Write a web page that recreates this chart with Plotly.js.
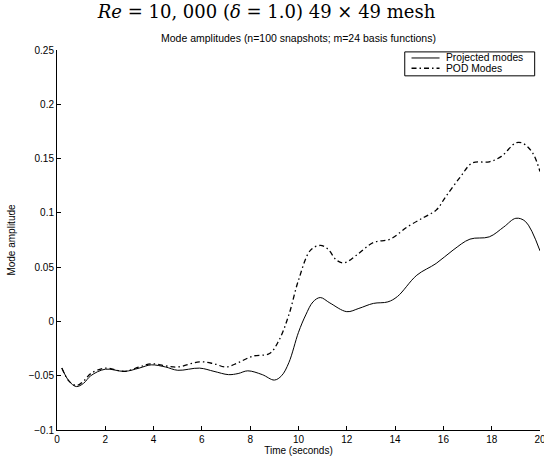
<!DOCTYPE html>
<html>
<head>
<meta charset="utf-8">
<script src="https://cdn.plot.ly/plotly-3.0.1.min.js"></script>
<style>html,body{margin:0;padding:0;background:#fff;}#chart{width:544px;height:465px;}</style>
</head>
<body>
<div id="chart"></div>
<script>
// Projected modes (solid)
const projT = [0.2, 0.5, 0.8, 1.1, 1.4, 2.0, 2.8, 3.4, 3.9, 4.5, 5.0, 5.9, 6.5, 7.1, 7.5, 7.9, 8.5, 9.0, 9.3, 9.6, 10.0, 10.3, 10.6, 10.9, 11.3, 12.0, 12.5, 13.1, 13.7, 14.1, 14.9, 15.7, 16.4, 17.1, 17.9, 18.5, 19.0, 19.4, 20.0];
const projV = [-0.043, -0.055, -0.060, -0.057, -0.050, -0.044, -0.046, -0.043, -0.040, -0.042, -0.045, -0.043, -0.046, -0.049, -0.048, -0.0455, -0.049, -0.054, -0.050, -0.038, -0.010, 0.006, 0.018, 0.022, 0.017, 0.009, 0.012, 0.0166, 0.018, 0.023, 0.0426, 0.0534, 0.0657, 0.0758, 0.0779, 0.087, 0.095, 0.092, 0.065];
// POD modes (dash-dot)
const podT = [0.2, 0.5, 0.8, 1.1, 1.4, 2.0, 2.8, 3.4, 3.9, 4.5, 5.0, 5.9, 6.5, 7.0, 7.5, 8.1, 8.8, 9.2, 9.6, 10.0, 10.5, 10.9, 11.2, 11.6, 11.9, 12.4, 13.1, 13.8, 14.5, 15.2, 15.7, 16.1, 16.7, 17.2, 17.9, 18.4, 19.0, 19.3, 19.7, 20.0];
const podV = [-0.043, -0.055, -0.059, -0.055, -0.048, -0.043, -0.046, -0.042, -0.039, -0.041, -0.042, -0.0372, -0.039, -0.042, -0.038, -0.032, -0.0295, -0.017, 0.006, 0.038, 0.0657, 0.070, 0.067, 0.056, 0.054, 0.061, 0.0727, 0.0758, 0.087, 0.096, 0.1025, 0.115, 0.133, 0.146, 0.147, 0.152, 0.1645, 0.164, 0.155, 0.138];

const xTicks = [0, 2, 4, 6, 8, 10, 12, 14, 16, 18, 20];
const yTicks = [-0.1, -0.05, 0, 0.05, 0.1, 0.15, 0.2, 0.25];
const yTickText = ['\u22120.1', '\u22120.05', '0', '0.05', '0.1', '0.15', '0.2', '0.25'];
const seriesNames = ['Projected modes', 'POD Modes'];

const sans = 'Liberation Sans, Arial, sans-serif';
const traces = [
  {x: projT, y: projV, type: 'scatter', mode: 'lines', name: seriesNames[0],
   line: {color: '#000', width: 1, shape: 'spline', smoothing: 1}},
  {x: podT, y: podV, type: 'scatter', mode: 'lines', name: seriesNames[1],
   line: {color: '#000', width: 1.3, shape: 'spline', smoothing: 1, dash: '5px,3px,1.5px,3px'}}
];

// manual legend geometry (paper coords)
const lx0 = 0.72, lx1 = 0.989, ly0 = 0.932, ly1 = 0.995;
const layout = {
  width: 544, height: 465,
  margin: {l: 56.6, r: 4, t: 50, b: 35},
  paper_bgcolor: '#fff', plot_bgcolor: '#fff',
  showlegend: false,
  font: {family: sans, size: 10, color: '#000'},
  title: {text: '<i>Re</i> = 10, 000 (<i>δ</i> = 1.0) 49 × 49 mesh', xref: 'container', x: 0.49, xanchor: 'center',
          yref: 'container', y: 0.974, yanchor: 'middle',
          font: {family: 'DejaVu Serif, serif', size: 18, color: '#000'}},
  xaxis: {range: [0, 20], tickvals: xTicks, ticktext: xTicks.map(String), ticks: 'inside', ticklen: 4,
          tickcolor: '#000', showline: true, linecolor: '#000', linewidth: 1, mirror: false,
          showgrid: false, zeroline: false, tickfont: {size: 10, family: sans}, ticklabeloverflow: 'allow',
          title: {text: 'Time (seconds)', font: {size: 10, family: sans}, standoff: 2}},
  yaxis: {range: [-0.1, 0.25], tickvals: yTicks, ticktext: yTickText, ticks: 'inside', ticklen: 4,
          tickcolor: '#000', showline: true, linecolor: '#000', linewidth: 1, mirror: false,
          showgrid: false, zeroline: false, tickfont: {size: 10, family: sans}, ticklabeloverflow: 'allow',
          title: {text: 'Mode amplitude', font: {size: 10, family: sans}, standoff: 11}},
  shapes: [
    {type: 'rect', xref: 'paper', yref: 'paper', x0: lx0, x1: lx1, y0: ly0, y1: ly1,
     line: {color: '#000', width: 1}, fillcolor: '#fff', layer: 'above'},
    {type: 'line', xref: 'paper', yref: 'paper', x0: lx0 + 0.014, x1: lx0 + 0.072, y0: 0.979, y1: 0.979,
     line: {color: '#000', width: 1}},
    {type: 'line', xref: 'paper', yref: 'paper', x0: lx0 + 0.014, x1: lx0 + 0.072, y0: 0.952, y1: 0.952,
     line: {color: '#000', width: 1.3, dash: '5px,3px,1.5px,3px'}}
  ],
  annotations: [
    {text: 'Mode amplitudes (n=100 snapshots; m=24 basis functions)', xref: 'paper', yref: 'paper',
     x: 0.5, xanchor: 'center', y: (430 - 38) / 380, yanchor: 'middle', showarrow: false,
     font: {size: 10.5, family: sans, color: '#000'}},
    {text: seriesNames[0], xref: 'paper', yref: 'paper', x: lx0 + 0.082, xanchor: 'left', y: 0.979, yanchor: 'middle',
     showarrow: false, font: {size: 10.3, family: sans, color: '#000'}},
    {text: seriesNames[1], xref: 'paper', yref: 'paper', x: lx0 + 0.082, xanchor: 'left', y: 0.952, yanchor: 'middle',
     showarrow: false, font: {size: 10.3, family: sans, color: '#000'}}
  ]
};
Plotly.newPlot('chart', traces, layout, {displayModeBar: false, staticPlot: true});
</script>
</body>
</html>
